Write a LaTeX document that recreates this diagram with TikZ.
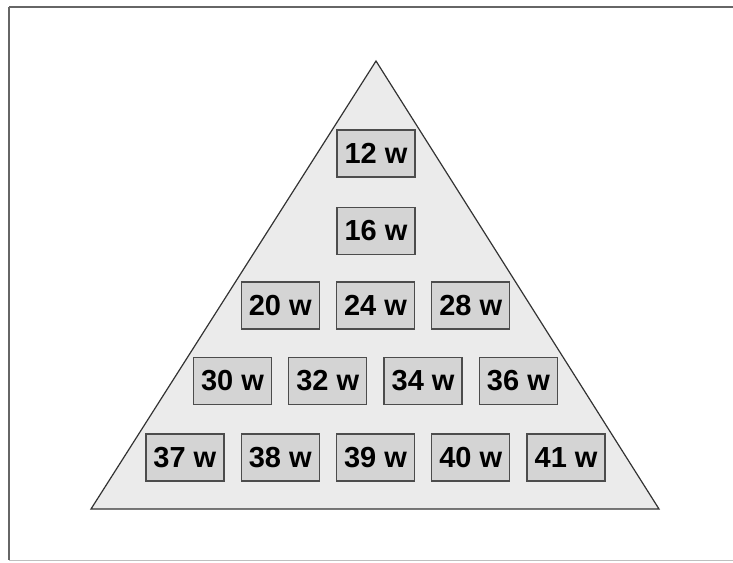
\documentclass[tikz,border=0pt]{standalone}
\usepackage{fontspec}
\setmainfont{Liberation Sans}
\definecolor{pyrfill}{gray}{0.92}
\definecolor{boxfill}{gray}{0.83}
\definecolor{boxline}{gray}{0.3}
\tikzset{
  wattbox/.style={draw=boxline,fill=boxfill,line width=1.3pt,minimum width=78pt,minimum height=47pt,inner sep=0pt,font=\fontsize{29}{32}\selectfont\bfseries},
}
\begin{document}
\begin{tikzpicture}[x=1pt,y=-1pt,line width=1.2pt]
\useasboundingbox (0,0) rectangle (733,562);
\draw[black!60,line width=2pt] (9,7)--(735,7) (9,7)--(9,560);
\draw[gray!50,line width=1pt] (9,560)--(735,560);
\draw[fill=pyrfill,draw=black!80] (376,61)--(659,509)--(91,509)--cycle;
\node[wattbox] (w12) at (376,153.5) {12 w};
\node[wattbox] (w16) at (376,231) {16 w};
\foreach \n [count=\i from -1] in {20,24,28}{\node[wattbox] (w\n) at ({375.5+95.3*\i},305.5) {\n\ w};}
\foreach \n [count=\i from 0] in {30,32,34,36}{\node[wattbox] (w\n) at ({232.5+95.3*\i},381) {\n\ w};}
\foreach \n [count=\i from -2] in {37,38,39,40,41}{\node[wattbox] (w\n) at ({375.5+95.3*\i},457.5) {\n\ w};}
\end{tikzpicture}
\end{document}
